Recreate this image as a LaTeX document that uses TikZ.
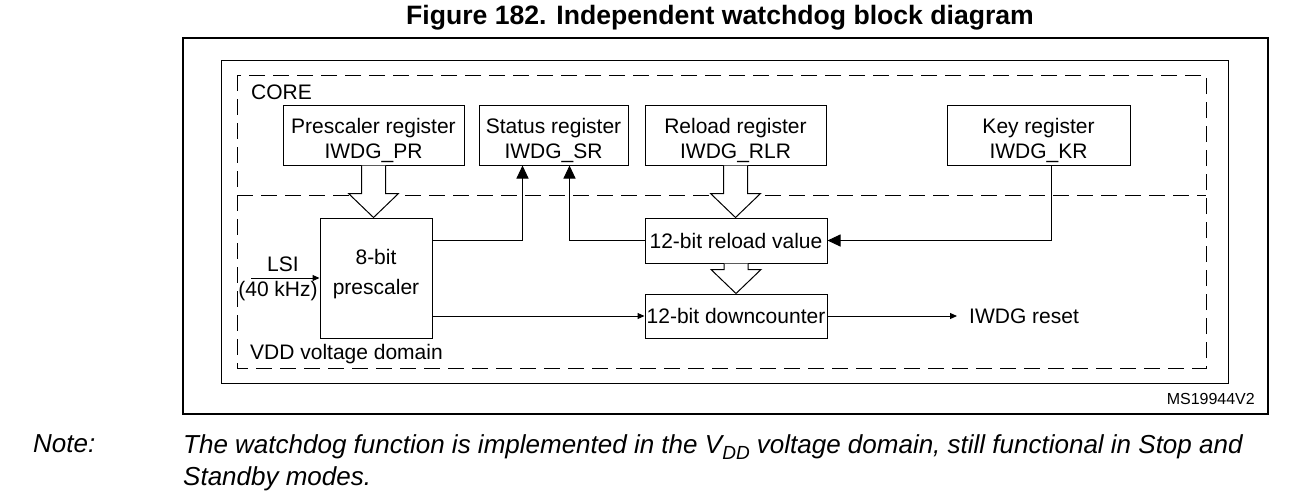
\documentclass[tikz,border=0pt]{standalone}
\usepackage{fontspec}
\setmainfont{Liberation Sans}
\usepackage{tikz}
\usetikzlibrary{arrows.meta,calc}
\tikzstyle{reg}=[rectangle,draw=black,line width=1pt,align=center,inner sep=0pt,
  font=\fontsize{21}{24.5}\selectfont,minimum height=60pt]
\tikzstyle{blk}=[rectangle,draw=black,line width=1pt,align=center,inner sep=0pt,
  font=\fontsize{21}{30}\selectfont]
\tikzstyle{lbl}=[inner sep=0pt,font=\fontsize{21}{24}\selectfont]
\tikzstyle{dashbox}=[line width=1pt,dash pattern=on 16pt off 8pt]
\tikzstyle{sig}=[line width=1pt,-{Triangle[length=7pt,width=6pt]}]
\tikzstyle{bigsig}=[line width=1pt,-{Triangle[length=13pt,width=12pt]}]
\tikzstyle{none}=[]
\newcommand{\hollowarrow}[2]{%
  \draw [line width=1pt,fill=white] let \p1=(#1.south), \p2=(#2.north) in
    (\x1-12pt,\y1) -- (\x1-12pt,\y2+24pt) -- (\x1-25pt,\y2+24pt) -- (\x1,\y2)
    -- (\x1+25pt,\y2+24pt) -- (\x1+12pt,\y2+24pt) -- (\x1+12pt,\y1);}
\newcommand{\topstrut}{\rule{0pt}{26pt}}

\begin{document}
\begin{tikzpicture}[x=1pt,y=-1pt]
    \useasboundingbox (0,0) rectangle (1289,491);
    \node [style=none,font=\fontsize{26.6}{27}\selectfont\bfseries] (0) at (720,18) {Figure 182. Independent watchdog block diagram};
    % frames
    \draw [line width=2.5pt] (183,38) rectangle (1268,414);
    \draw [line width=1pt] (221,60) rectangle (1228,383);
    \draw [style=dashbox] (237,75) rectangle (1206,368);
    \draw [style=dashbox] (237,195) -- (1206,195);
    \node [style=lbl,anchor=west] (20) at (251,92) {CORE};
    \node [style=lbl,anchor=west] (21) at (250,354) {VDD voltage domain};
    % registers
    \node [style=reg,minimum width=181pt] (1) at (373.5,135) {\topstrut Prescaler register\\IWDG\_PR};
    \node [style=reg,minimum width=149pt] (2) at (553.5,135) {\topstrut Status register\\IWDG\_SR};
    \node [style=reg,minimum width=181pt] (3) at (735.5,135) {\topstrut Reload register\\IWDG\_RLR};
    \node [style=reg,minimum width=183pt] (4) at (1038.5,135) {\topstrut Key register\\IWDG\_KR};
    % counter blocks
    \node [style=blk,minimum width=112pt,minimum height=120pt] (5) at (376,278) {8-bit\\prescaler\rule[-13pt]{0pt}{13pt}};
    \node [style=blk,minimum width=182pt,minimum height=45pt] (6) at (736,240.5) {12-bit reload value};
    \node [style=blk,minimum width=182pt,minimum height=44pt] (7) at (736,316) {12-bit downcounter};
    \node [style=lbl,anchor=west,inner sep=12pt] (8) at (957,316) {IWDG reset};
    \node [style=lbl] (9) at (283,264) {LSI};
    \node [style=lbl] (10) at (278,291) {(40 kHz)};
    \coordinate (11) at (251,278);
    \hollowarrow{1}{5}
    \hollowarrow{3}{6}
    \hollowarrow{6}{7}
    \draw [style=sig] (11) to (5.west |- 11);
    \draw [style=bigsig] (5.east |- 6) -| ($(2.south)+(-31,0)$);
    \draw [style=bigsig] (6.west) -| ($(2.south)+(16,0)$);
    \draw [style=bigsig] ($(4.south)+(13,0)$) |- (6.east);
    \draw [style=sig] (5.east |- 7) to (7.west);
    \draw [style=sig] (7.east) to (8.west);
    \node [style=none,anchor=east,inner sep=0pt,font=\fontsize{16}{16}\selectfont] (12) at (1255,399) {MS19944V2};
    % note
    \node [style=none,anchor=north west,inner sep=0pt,font=\fontsize{26}{32}\selectfont\itshape] (13) at (33,434) {Note:};
    \node [style=none,anchor=north west,inner sep=0pt,align=left,font=\fontsize{26}{32}\selectfont\itshape] (14) at (183,434)
      {The watchdog function is implemented in the V\raisebox{-6pt}{\fontsize{19}{19}\selectfont DD} voltage domain, still functional in Stop and\\Standby modes.};
\end{tikzpicture}
\end{document}
